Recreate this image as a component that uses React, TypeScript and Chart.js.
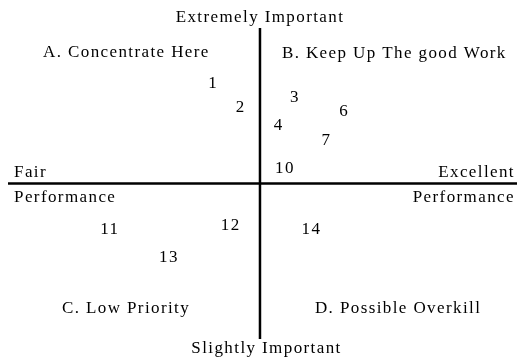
import React, { useEffect, useRef } from "react";
import { Chart, registerables } from "chart.js";

Chart.register(...registerables);

// Attribute labels and their (performance, importance) positions
const itemLabels = ["1", "2", "3", "4", "6", "7", "10", "11", "12", "13", "14"];
const performance = [-1.9, -0.8, 1.35, 0.7, 3.3, 2.6, 0.95, -6.0, -1.2, -3.65, 2.0];
const importance = [6.5, 5.0, 5.65, 3.8, 4.7, 2.85, 1.05, -2.85, -2.6, -4.65, -2.85];

// Axis extents
const xRange = [-10, 10.2];
const yRange = [-10, 10];

// Text annotations (quadrants and axis ends)
const noteTexts = [
  "Extremely Important",
  "A. Concentrate Here",
  "B. Keep Up The good Work",
  "Fair",
  "Excellent",
  "Performance",
  "Performance",
  "C. Low Priority",
  "D. Possible Overkill",
  "Slightly Important",
];
const noteX = [0, -8.61, 0.87, -9.76, 10.12, -9.76, 10.12, -7.86, 2.18, 0.26];
const noteY = [10.39, 8.14, 8.07, 0.45, 0.45, -1.19, -1.19, -8.33, -8.33, -10.9];
const noteAlign = ["center", "left", "left", "left", "right", "left", "right", "left", "left", "center"];

const FONT = '17px "Liberation Serif", "Times New Roman", serif';

const labelPlugin = {
  id: "quadLabels",
  afterDatasetsDraw(chart: any) {
    const ctx = chart.ctx;
    const xs = chart.scales.x;
    const ys = chart.scales.y;
    ctx.save();
    ctx.font = FONT;
    ctx.fillStyle = "#000";
    try {
      (ctx as any).letterSpacing = "1.4px";
    } catch (e) {}
    ctx.textBaseline = "alphabetic";
    // item numbers
    const meta = chart.getDatasetMeta(2);
    meta.data.forEach((el: any, i: number) => {
      ctx.textAlign = "center";
      ctx.fillText(itemLabels[i], el.x + 1, el.y + 6);
    });
    // annotations
    noteTexts.forEach((t, i) => {
      ctx.textAlign = noteAlign[i] as CanvasTextAlign;
      ctx.fillText(t, xs.getPixelForValue(noteX[i]), ys.getPixelForValue(noteY[i]));
    });
    ctx.restore();
  },
};

export default function App() {
  const ref = useRef<HTMLCanvasElement>(null);
  useEffect(() => {
    if (!ref.current) return;
    const chart = new Chart(ref.current, {
      type: "scatter",
      data: {
        datasets: [
          {
            type: "line",
            data: [
              { x: xRange[0], y: 0 },
              { x: xRange[1], y: 0 },
            ],
            borderColor: "#000",
            borderWidth: 2.5,
            pointRadius: 0,
            showLine: true,
          } as any,
          {
            type: "line",
            data: [
              { x: 0, y: yRange[0] },
              { x: 0, y: yRange[1] },
            ],
            borderColor: "#000",
            borderWidth: 2.5,
            pointRadius: 0,
            showLine: true,
          } as any,
          {
            data: performance.map((p, i) => ({ x: p, y: importance[i] })),
            pointRadius: 0,
            pointHoverRadius: 0,
          },
        ],
      },
      options: {
        animation: false,
        responsive: true,
        maintainAspectRatio: false,
        layout: { padding: { left: 8, right: 0, top: 28, bottom: 21 } },
        plugins: { legend: { display: false }, tooltip: { enabled: false } },
        scales: {
          x: { type: "linear", min: xRange[0], max: xRange[1], display: false },
          y: { type: "linear", min: yRange[0], max: yRange[1], display: false },
        },
      },
      plugins: [labelPlugin],
    });
    return () => chart.destroy();
  }, []);
  return (
    <div style={{ position: "absolute", left: 0, top: 0, width: 517, height: 360, background: "#fff" }}>
      <canvas ref={ref} />
    </div>
  );
}
